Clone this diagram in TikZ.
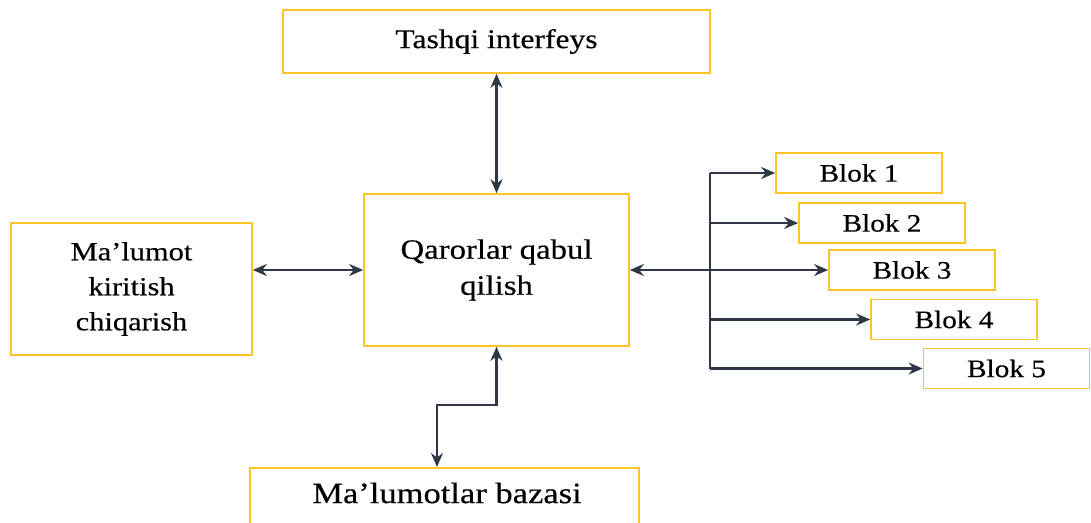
\documentclass[tikz,border=0pt]{standalone}
\usepackage{fontspec}
\setmainfont{Liberation Serif}[FakeStretch=1.17, FakeBold=0.4]
\usetikzlibrary{arrows.meta}
\definecolor{boxgold}{HTML}{FFC525}
\definecolor{wire}{HTML}{2E3746}
\begin{document}
\begin{tikzpicture}[x=1pt,y=-1pt,
  blk/.style={draw=boxgold, line width=1.7pt, rectangle, inner sep=0pt, align=center},
  smallblk/.style={blk, minimum width=166pt, minimum height=40pt, font=\fontsize{25}{30}\selectfont},
  tip/.tip={Stealth[length=14pt,width=12pt]},
  link/.style={draw=wire, line width=2.2pt, -tip},
  dlink/.style={link, tip-tip}]
\useasboundingbox (0,0) rectangle (1091,522);
\clip (0,0) rectangle (1091,522);
% main blocks
\node[blk, minimum width=427pt, minimum height=63pt, font=\fontsize{27}{32}\selectfont] (tash) at (496.5,41.5) {Tashqi interfeys};
\node[blk, minimum width=265pt, minimum height=152pt, font=\fontsize{28}{36}\selectfont] (qaror) at (496.5,270) {Qarorlar qabul\\qilish};
\node[blk, minimum width=241pt, minimum height=132pt, font=\fontsize{26}{35}\selectfont] (kirit) at (131.5,289) {Ma'lumot\\kiritish\\chiqarish};
\node[blk, minimum width=389pt, minimum height=80pt, anchor=north west] (baza) at (249,467) {};
\node[font=\fontsize{29.5}{34}\selectfont] (bazatxt) at (447,493) {Ma'lumotlar bazasi};
% output blocks
\node[smallblk] (b1) at (859,173) {Blok 1};
\node[smallblk] (b2) at (882,223) {Blok 2};
\node[smallblk] (b3) at (912,270) {Blok 3};
\node[smallblk] (b4) at (954,319.5) {Blok 4};
\node[smallblk] (b5) at (1006.5,368.5) {Blok 5};
% bus on the right
\coordinate (bustop) at (710,173);
\coordinate (busbot) at (710,368.5);
\draw[draw=wire, line width=2.2pt] (bustop) -- (busbot);
% connectors
\draw[dlink] (tash.south -| qaror.north) -- (qaror.north);
\draw[dlink] (kirit.east |- qaror.west) -- (qaror.west);
\draw[dlink] (qaror.east) -- (qaror.east -| b3.west);
\draw[link] (bustop) -- (b1.west);
\draw[link] (bustop |- b2.west) -- (b2.west);
\draw[link] (bustop |- b4.west) -- (b4.west);
\draw[link] (busbot) -- (b5.west);
\coordinate (bend) at (496.5,405);
\draw[dlink] (qaror.south) -- (bend) -- (bend -| 437,0) -- (baza.north west -| 437,0);
\end{tikzpicture}
\end{document}
